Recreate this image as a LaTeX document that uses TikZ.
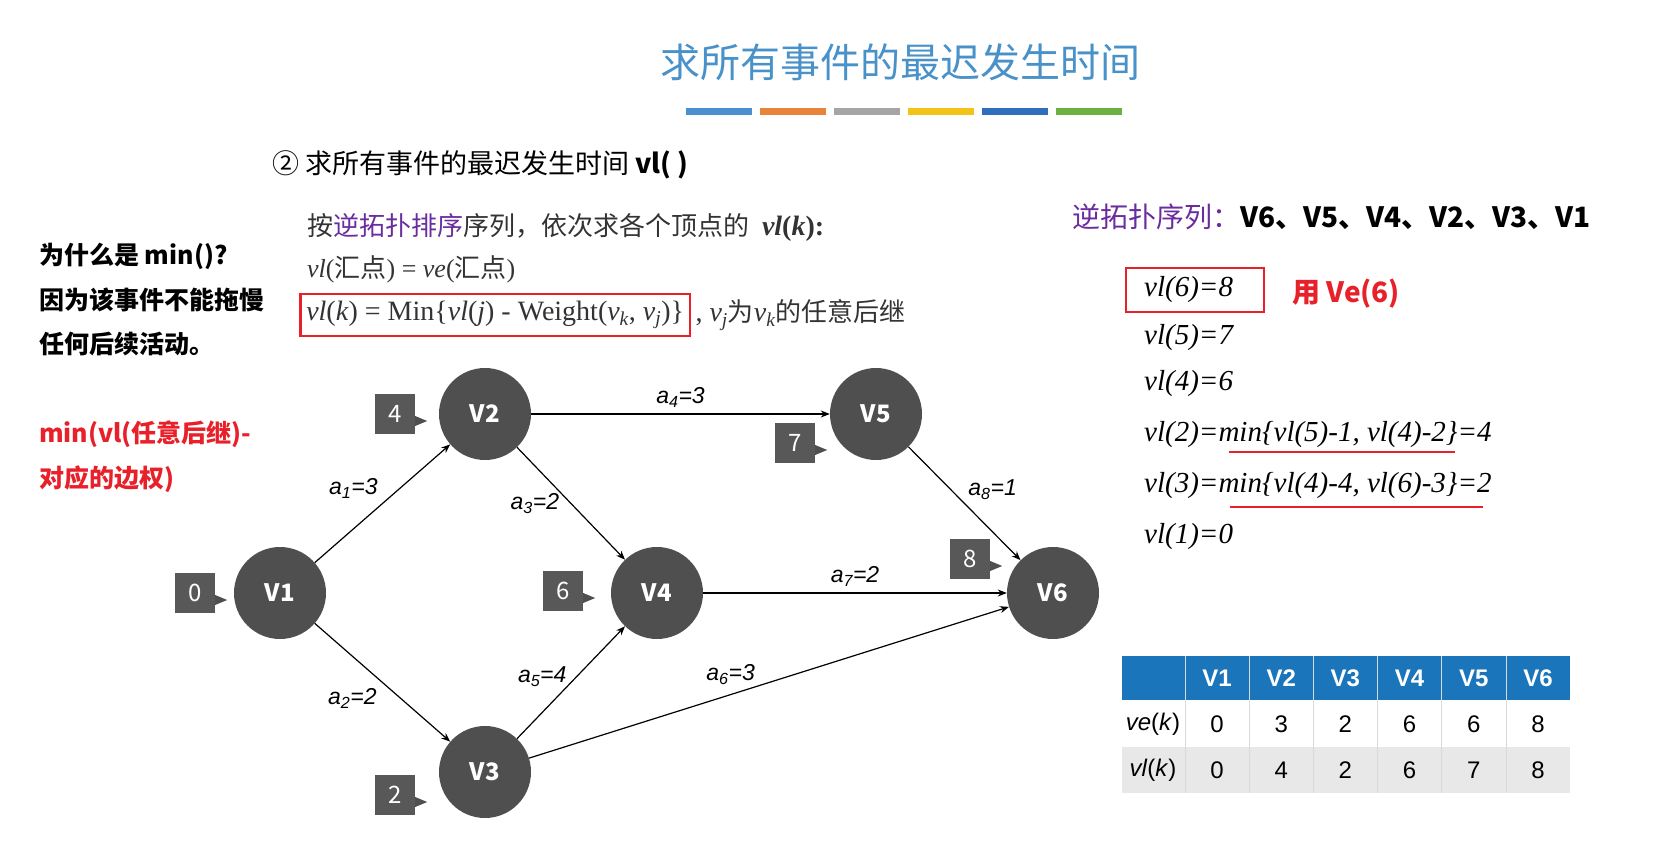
\documentclass[tikz,border=0pt]{standalone}
\usepackage{fontspec}
\setmainfont{Liberation Serif}
\newfontfamily\cjk{Noto Sans CJK SC}
\newfontfamily\tms{Liberation Serif}
\newfontfamily\ars{Liberation Sans}
\usetikzlibrary{arrows.meta}
\definecolor{ng}{HTML}{4F4F4F}
\definecolor{tb}{HTML}{1B75BB}
\definecolor{pur}{HTML}{6A2C9E}
\definecolor{rd}{HTML}{E8202A}
\newcommand{\fs}[1]{\fontsize{#1}{#1}\selectfont}
\newcommand{\iv}[1]{{\tms\itshape #1}}
\newcommand{\sbi}[1]{\textsubscript{\itshape #1}}
\begin{document}
\begin{tikzpicture}[x=1pt,y=-1pt,
  vx/.style={circle,fill=ng,minimum size=92pt,inner sep=0pt,text=white,font=\cjk\bfseries\fs{24}},
  tag/.style={fill=ng!95,minimum size=40pt,inner sep=0pt,text=white,font=\cjk\fs{24}},
  ed/.style={-{Stealth[length=9pt,width=7pt]},line width=1.2pt},
  el/.style={font=\ars\itshape\fs{23}},
  txt/.style={anchor=west,inner sep=0pt,font=\cjk\fs{26}},
  vl/.style={anchor=west,inner sep=0pt,font=\tms\itshape\fs{29}},
  cell/.style={minimum width=64pt,minimum height=46pt,inner sep=0pt,font=\ars\fs{24}}]
\useasboundingbox (0,0) rectangle (1663,864);
% title
\node[font=\cjk\fs{40},text=tb!80] (title) at (900,62) {求所有事件的最迟发生时间};
\foreach \c [count=\i] in {4A90D0,E8833A,A5A5A5,F3C318,2F6EBA,6BB140}{
  \definecolor{bc}{HTML}{\c}
  \fill[bc] ({686+(\i-1)*74},108) rectangle ++(66,7);}
% left text
\node[txt,font=\cjk\bfseries\fs{25}] (w1) at (39,256) {为什么是 min()?};
\node[txt,font=\cjk\bfseries\fs{25}] (w2) at (39,300) {因为该事件不能拖慢};
\node[txt,font=\cjk\bfseries\fs{25}] (w3) at (39,344) {任何后续活动。};
\node[txt,font=\cjk\bfseries\fs{25},text=rd] (r1) at (39,434) {min(vl(任意后继)-};
\node[txt,font=\cjk\bfseries\fs{25},text=rd] (r2) at (39,479) {对应的边权)};
% middle text
\node[txt,font=\cjk\fs{27}] (sub) at (272,165) {② 求所有事件的最迟发生时间 \textbf{vl( )}};
\node[txt,text=black!80] (l1) at (307,227) {按\textcolor{pur}{逆拓扑排序}序列，依次求各个顶点的 {\tms\bfseries\itshape\fs{28} vl}{\tms\bfseries\fs{28}(}{\tms\bfseries\itshape\fs{28}k}{\tms\bfseries\fs{28}):}};
\node[txt,text=black!80] (l2) at (307,269) {\iv{vl}{\tms(}汇点{\tms) = }\iv{ve}{\tms(}汇点{\tms)}};
\node[anchor=west,text=black!80,draw=rd,line width=2.5pt,inner xsep=6pt,minimum height=42pt,font=\tms\fs{28}] (l3) at (299,315) {\textit{vl}(\textit{k}) = Min\{\textit{vl}(\textit{j}) - Weight(\textit{v}\sbi{k}, \textit{v}\sbi{j})\}};
\node[anchor=west,inner sep=0pt,text=black!80,font=\cjk\fs{26}] (l3b) at ([xshift=4pt]l3.east) {{\tms\fs{28}, \textit{v}\sbi{j}}为{\tms\fs{28}\textit{v}\sbi{k}}的任意后继};
% right text
\node[txt,font=\cjk\bfseries\fs{28}] (seq) at (1072,217) {\textcolor{pur}{\mdseries 逆拓扑序列：}V6、V5、V4、V2、V3、V1};
\node[vl] (e6) at (1144,290) {vl(6)=8};
\draw[rd,line width=2.5pt] (1126,268) rectangle (1264,312);
\node[txt,font=\cjk\bfseries\fs{28},text=rd] (use) at (1292,294) {用 Ve(6)};
\node[vl] (e5) at (1144,338) {vl(5)=7};
\node[vl] (e4) at (1144,384) {vl(4)=6};
\node[vl] (e2) at (1144,435) {vl(2)=min\{vl(5)-1, vl(4)-2\}=4};
\node[vl] (e3) at (1144,486) {vl(3)=min\{vl(4)-4, vl(6)-3\}=2};
\node[vl] (e1) at (1144,537) {vl(1)=0};
\draw[rd,line width=2.2pt] (1229,452) -- (1455,452);
\draw[rd,line width=2.2pt] (1230,507) -- (1483,507);
% graph
\node[vx] (V1) at (280,593) {V1};
\node[vx] (V2) at (485,414) {V2};
\node[vx] (V3) at (485,772) {V3};
\node[vx] (V4) at (657,593) {V4};
\node[vx] (V5) at (876,414) {V5};
\node[vx] (V6) at (1053,593) {V6};
\foreach \n/\t/\x/\y in {t0/0/195/593,t4/4/395/414,t2/2/395/795,t6/6/563/591,t7/7/795/443,t8/8/970/559}{
  \node[tag] (\n) at (\x,\y) {\t};
  \fill[ng] ([yshift=-2pt]\n.east) -- ++(12,5) -- ++(-12,5) -- cycle;}
\draw[ed] (V1) -- (V2) node[el,midway,above left=1pt] {a\textsubscript{1}=3};
\draw[ed] (V1) -- (V3) node[el,midway,below left=2pt] {a\textsubscript{2}=2};
\draw[ed] (V2) -- (V4) node[el,pos=0.5,left=8pt] {a\textsubscript{3}=2};
\draw[ed] (V2) -- (V5) node[el,midway,above=3pt] {a\textsubscript{4}=3};
\draw[ed] (V3) -- (V4) node[el,pos=0.55,left=6pt] {a\textsubscript{5}=4};
\draw[ed] (V3) -- (V6) node[el,pos=0.42,above=6pt] {a\textsubscript{6}=3};
\draw[ed] (V4) -- (V6) node[el,midway,above=3pt] {a\textsubscript{7}=2};
\draw[ed] (V5) -- (V6) node[el,midway,above right=0pt] {a\textsubscript{8}=1};
% table
\fill[tb] (1122,656) rectangle (1570,700);
\fill[black!9] (1122,747) rectangle (1570,793);
\foreach \i in {1,...,6}{\draw[white!85!black,line width=1pt] ({1185+(\i-1)*64.2},656) -- ++(0,137);}
\node[cell,minimum width=63pt] (rh1) at (1153,724) {\textit{ve}(\textit{k})};
\node[cell,minimum width=63pt] (rh2) at (1153,770) {\textit{vl}(\textit{k})};
\foreach \h/\a/\b [count=\i] in {V1/0/0,V2/3/4,V3/2/2,V4/6/6,V5/6/7,V6/8/8}{
  \node[cell,text=white,font=\ars\bfseries\fs{24}] (h\i) at ({1217+(\i-1)*64.2},678) {\h};
  \node[cell] (a\i) at ({1217+(\i-1)*64.2},724) {\a};
  \node[cell] (b\i) at ({1217+(\i-1)*64.2},770) {\b};}
\end{tikzpicture}
\end{document}
